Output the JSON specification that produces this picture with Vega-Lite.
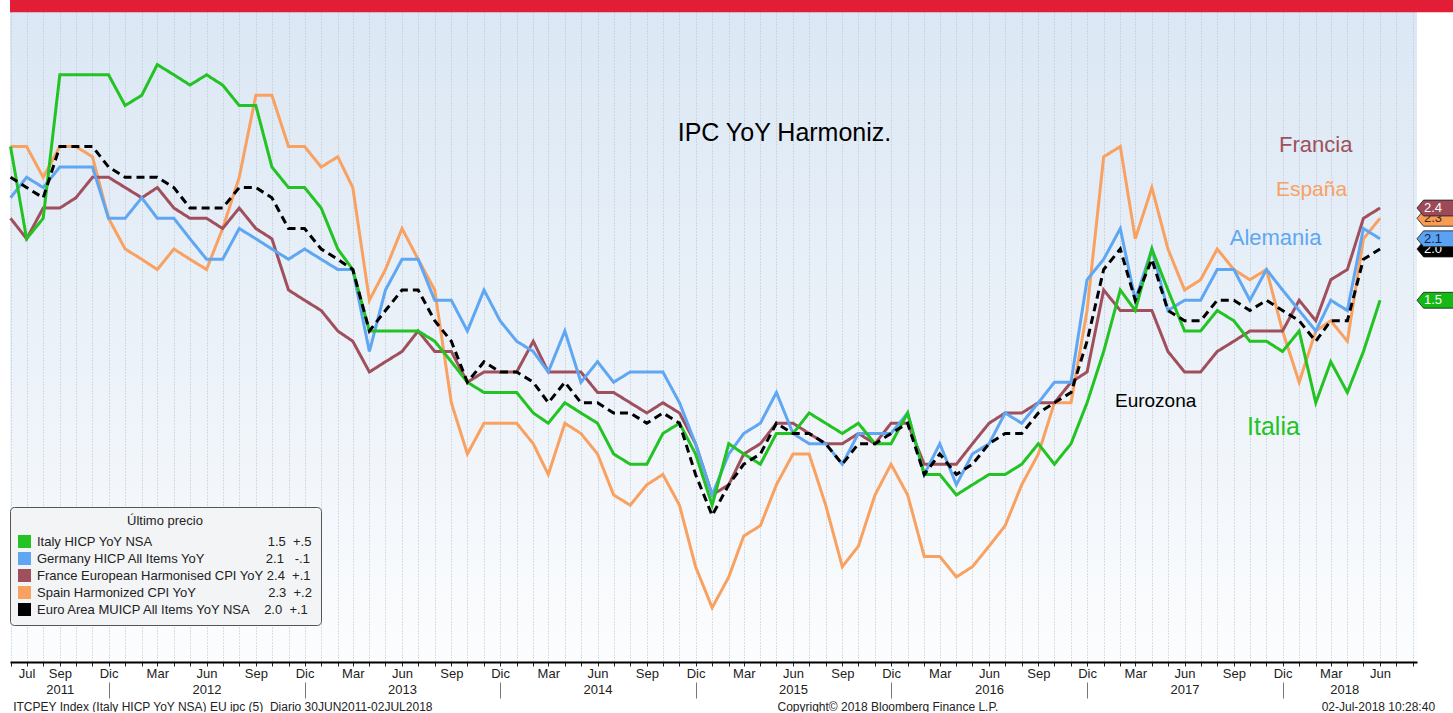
{
  "$schema": "https://vega.github.io/schema/vega-lite/v6.json",
  "width": 1407,
  "height": 662,
  "autosize": {"type": "pad"},
  "padding": {"left": 4, "top": 0, "right": 0, "bottom": 0},
  "background": "#ffffff",
  "view": {
    "stroke": null,
    "fill": {
      "gradient": "linear", "x1": 0, "y1": 0, "x2": 0, "y2": 1,
      "stops": [
        {"offset": 0, "color": "#dae7f4"},
        {"offset": 0.55, "color": "#ecf2f9"},
        {"offset": 1, "color": "#fcfdfe"}
      ]
    }
  },
  "config": {"font": "Liberation Sans"},
  "datasets": {
    "m": [
      {"d":"2011-06-01","it":3.0,"de":2.5,"fr":2.3,"es":3.0,"ea":2.7},
      {"d":"2011-07-01","it":2.1,"de":2.7,"fr":2.1,"es":3.0,"ea":2.6},
      {"d":"2011-08-01","it":2.3,"de":2.6,"fr":2.4,"es":2.7,"ea":2.5},
      {"d":"2011-09-01","it":3.7,"de":2.8,"fr":2.4,"es":3.0,"ea":3.0},
      {"d":"2011-10-01","it":3.7,"de":2.8,"fr":2.5,"es":3.0,"ea":3.0},
      {"d":"2011-11-01","it":3.7,"de":2.8,"fr":2.7,"es":2.9,"ea":3.0},
      {"d":"2011-12-01","it":3.7,"de":2.3,"fr":2.7,"es":2.3,"ea":2.8},
      {"d":"2012-01-01","it":3.4,"de":2.3,"fr":2.6,"es":2.0,"ea":2.7},
      {"d":"2012-02-01","it":3.5,"de":2.5,"fr":2.5,"es":1.9,"ea":2.7},
      {"d":"2012-03-01","it":3.8,"de":2.3,"fr":2.6,"es":1.8,"ea":2.7},
      {"d":"2012-04-01","it":3.7,"de":2.3,"fr":2.4,"es":2.0,"ea":2.6},
      {"d":"2012-05-01","it":3.6,"de":2.1,"fr":2.3,"es":1.9,"ea":2.4},
      {"d":"2012-06-01","it":3.7,"de":1.9,"fr":2.3,"es":1.8,"ea":2.4},
      {"d":"2012-07-01","it":3.6,"de":1.9,"fr":2.2,"es":2.2,"ea":2.4},
      {"d":"2012-08-01","it":3.4,"de":2.2,"fr":2.4,"es":2.7,"ea":2.6},
      {"d":"2012-09-01","it":3.4,"de":2.1,"fr":2.2,"es":3.5,"ea":2.6},
      {"d":"2012-10-01","it":2.8,"de":2.0,"fr":2.1,"es":3.5,"ea":2.5},
      {"d":"2012-11-01","it":2.6,"de":1.9,"fr":1.6,"es":3.0,"ea":2.2},
      {"d":"2012-12-01","it":2.6,"de":2.0,"fr":1.5,"es":3.0,"ea":2.2},
      {"d":"2013-01-01","it":2.4,"de":1.9,"fr":1.4,"es":2.8,"ea":2.0},
      {"d":"2013-02-01","it":2.0,"de":1.8,"fr":1.2,"es":2.9,"ea":1.9},
      {"d":"2013-03-01","it":1.8,"de":1.8,"fr":1.1,"es":2.6,"ea":1.8},
      {"d":"2013-04-01","it":1.2,"de":1.0,"fr":0.8,"es":1.5,"ea":1.2},
      {"d":"2013-05-01","it":1.2,"de":1.6,"fr":0.9,"es":1.8,"ea":1.4},
      {"d":"2013-06-01","it":1.2,"de":1.9,"fr":1.0,"es":2.2,"ea":1.6},
      {"d":"2013-07-01","it":1.2,"de":1.9,"fr":1.2,"es":1.9,"ea":1.6},
      {"d":"2013-08-01","it":1.1,"de":1.5,"fr":1.0,"es":1.6,"ea":1.3},
      {"d":"2013-09-01","it":0.9,"de":1.5,"fr":1.0,"es":0.5,"ea":1.1},
      {"d":"2013-10-01","it":0.7,"de":1.2,"fr":0.7,"es":0.0,"ea":0.7},
      {"d":"2013-11-01","it":0.6,"de":1.6,"fr":0.8,"es":0.3,"ea":0.9},
      {"d":"2013-12-01","it":0.6,"de":1.3,"fr":0.8,"es":0.3,"ea":0.8},
      {"d":"2014-01-01","it":0.6,"de":1.1,"fr":0.8,"es":0.3,"ea":0.8},
      {"d":"2014-02-01","it":0.4,"de":1.0,"fr":1.1,"es":0.1,"ea":0.7},
      {"d":"2014-03-01","it":0.3,"de":0.8,"fr":0.8,"es":-0.2,"ea":0.5},
      {"d":"2014-04-01","it":0.5,"de":1.2,"fr":0.8,"es":0.3,"ea":0.7},
      {"d":"2014-05-01","it":0.4,"de":0.7,"fr":0.8,"es":0.2,"ea":0.5},
      {"d":"2014-06-01","it":0.3,"de":0.9,"fr":0.6,"es":0.0,"ea":0.5},
      {"d":"2014-07-01","it":0.0,"de":0.7,"fr":0.6,"es":-0.4,"ea":0.4},
      {"d":"2014-08-01","it":-0.1,"de":0.8,"fr":0.5,"es":-0.5,"ea":0.4},
      {"d":"2014-09-01","it":-0.1,"de":0.8,"fr":0.4,"es":-0.3,"ea":0.3},
      {"d":"2014-10-01","it":0.2,"de":0.8,"fr":0.5,"es":-0.2,"ea":0.4},
      {"d":"2014-11-01","it":0.3,"de":0.5,"fr":0.4,"es":-0.5,"ea":0.3},
      {"d":"2014-12-01","it":0.0,"de":0.1,"fr":0.1,"es":-1.1,"ea":-0.2},
      {"d":"2015-01-01","it":-0.5,"de":-0.4,"fr":-0.4,"es":-1.5,"ea":-0.6},
      {"d":"2015-02-01","it":0.1,"de":0.0,"fr":-0.3,"es":-1.2,"ea":-0.3},
      {"d":"2015-03-01","it":0.0,"de":0.2,"fr":0.0,"es":-0.8,"ea":-0.1},
      {"d":"2015-04-01","it":-0.1,"de":0.3,"fr":0.1,"es":-0.7,"ea":0.0},
      {"d":"2015-05-01","it":0.2,"de":0.6,"fr":0.3,"es":-0.3,"ea":0.3},
      {"d":"2015-06-01","it":0.2,"de":0.2,"fr":0.3,"es":0.0,"ea":0.2},
      {"d":"2015-07-01","it":0.4,"de":0.1,"fr":0.2,"es":0.0,"ea":0.2},
      {"d":"2015-08-01","it":0.3,"de":0.1,"fr":0.1,"es":-0.5,"ea":0.1},
      {"d":"2015-09-01","it":0.2,"de":-0.1,"fr":0.1,"es":-1.1,"ea":-0.1},
      {"d":"2015-10-01","it":0.3,"de":0.2,"fr":0.2,"es":-0.9,"ea":0.1},
      {"d":"2015-11-01","it":0.1,"de":0.2,"fr":0.1,"es":-0.4,"ea":0.1},
      {"d":"2015-12-01","it":0.1,"de":0.2,"fr":0.3,"es":-0.1,"ea":0.2},
      {"d":"2016-01-01","it":0.4,"de":0.4,"fr":0.3,"es":-0.4,"ea":0.3},
      {"d":"2016-02-01","it":-0.2,"de":-0.2,"fr":-0.1,"es":-1.0,"ea":-0.2},
      {"d":"2016-03-01","it":-0.2,"de":0.1,"fr":-0.1,"es":-1.0,"ea":0.0},
      {"d":"2016-04-01","it":-0.4,"de":-0.3,"fr":-0.1,"es":-1.2,"ea":-0.2},
      {"d":"2016-05-01","it":-0.3,"de":0.0,"fr":0.1,"es":-1.1,"ea":-0.1},
      {"d":"2016-06-01","it":-0.2,"de":0.1,"fr":0.3,"es":-0.9,"ea":0.1},
      {"d":"2016-07-01","it":-0.2,"de":0.4,"fr":0.4,"es":-0.7,"ea":0.2},
      {"d":"2016-08-01","it":-0.1,"de":0.3,"fr":0.4,"es":-0.3,"ea":0.2},
      {"d":"2016-09-01","it":0.1,"de":0.5,"fr":0.5,"es":0.0,"ea":0.4},
      {"d":"2016-10-01","it":-0.1,"de":0.7,"fr":0.5,"es":0.5,"ea":0.5},
      {"d":"2016-11-01","it":0.1,"de":0.7,"fr":0.7,"es":0.5,"ea":0.6},
      {"d":"2016-12-01","it":0.5,"de":1.7,"fr":0.8,"es":1.4,"ea":1.1},
      {"d":"2017-01-01","it":1.0,"de":1.9,"fr":1.6,"es":2.9,"ea":1.8},
      {"d":"2017-02-01","it":1.6,"de":2.2,"fr":1.4,"es":3.0,"ea":2.0},
      {"d":"2017-03-01","it":1.4,"de":1.5,"fr":1.4,"es":2.1,"ea":1.5},
      {"d":"2017-04-01","it":2.0,"de":2.0,"fr":1.4,"es":2.6,"ea":1.9},
      {"d":"2017-05-01","it":1.6,"de":1.4,"fr":1.0,"es":2.0,"ea":1.4},
      {"d":"2017-06-01","it":1.2,"de":1.5,"fr":0.8,"es":1.6,"ea":1.3},
      {"d":"2017-07-01","it":1.2,"de":1.5,"fr":0.8,"es":1.7,"ea":1.3},
      {"d":"2017-08-01","it":1.4,"de":1.8,"fr":1.0,"es":2.0,"ea":1.5},
      {"d":"2017-09-01","it":1.3,"de":1.8,"fr":1.1,"es":1.8,"ea":1.5},
      {"d":"2017-10-01","it":1.1,"de":1.5,"fr":1.2,"es":1.7,"ea":1.4},
      {"d":"2017-11-01","it":1.1,"de":1.8,"fr":1.2,"es":1.8,"ea":1.5},
      {"d":"2017-12-01","it":1.0,"de":1.6,"fr":1.2,"es":1.2,"ea":1.4},
      {"d":"2018-01-01","it":1.2,"de":1.4,"fr":1.5,"es":0.7,"ea":1.3},
      {"d":"2018-02-01","it":0.5,"de":1.2,"fr":1.3,"es":1.2,"ea":1.1},
      {"d":"2018-03-01","it":0.9,"de":1.5,"fr":1.7,"es":1.3,"ea":1.3},
      {"d":"2018-04-01","it":0.6,"de":1.4,"fr":1.8,"es":1.1,"ea":1.3},
      {"d":"2018-05-01","it":1.0,"de":2.2,"fr":2.3,"es":2.1,"ea":1.9},
      {"d":"2018-06-01","it":1.5,"de":2.1,"fr":2.4,"es":2.3,"ea":2.0}
    ],
    "ann": [
      {"s":"ea","t":"IPC YoY Harmoniz.","d":"2015-05-16","v":3.057},
      {"s":"fr","t":"Francia","d":"2018-02-01","v":2.944},
      {"s":"es","t":"España","d":"2018-01-24","v":2.518},
      {"s":"de","t":"Alemania","d":"2017-11-18","v":2.039},
      {"s":"ea","t":"Eurozona","d":"2017-04-08","v":0.462},
      {"s":"it","t":"Italia","d":"2017-11-14","v":0.185}
    ],
    "series": [
      {"s":"it"},{"s":"de"},{"s":"fr"},{"s":"es"},{"s":"ea"}
    ]
  },
  "resolve": {"axis": {"x": "independent"}},
  "layer": [
    {
      "data": {"values": [{}]},
      "mark": {"type": "rect", "color": "#e21e36"},
      "encoding": {
        "x": {"datum": {"year": 2011, "month": 5, "date": 31, "utc": true}, "type": "temporal", "axis": null},
        "x2": {"datum": {"year": 2018, "month": 10, "date": 31, "utc": true}},
        "y": {"datum": 4.31, "type": "quantitative", "axis": null},
        "y2": {"datum": 4.43}
      }
    },
    {
      "data": {"name": "series"},
      "mark": {"type": "point", "opacity": 0},
      "encoding": {
        "x": {"datum": {"year": 2015, "month": 1, "date": 1, "utc": true}, "type": "temporal", "axis": null},
        "y": {"datum": 1, "type": "quantitative", "axis": null},
        "shape": {
          "field": "s", "type": "nominal",
          "scale": {"domain": ["it", "de", "fr", "es", "ea"], "range": ["square", "square", "square", "square", "square"]},
          "legend": {
            "orient": "none", "legendX": 0, "legendY": 507, "direction": "vertical",
            "title": "Último precio", "titleFontSize": 13, "titleFontWeight": "normal", "titleColor": "#222222",
            "titleAnchor": "middle", "titlePadding": 7, "padding": 8,
            "fillColor": "#f2f4f6", "strokeColor": "#555555", "cornerRadius": 4,
            "symbolSize": 169, "symbolStrokeWidth": 0,
            "labelFontSize": 13, "labelColor": "#222222", "labelOffset": 6, "labelLimit": 500, "rowPadding": 3,
            "labelExpr": "datum.label == 'it' ? 'Italy HICP YoY NSA\u00a0\u00a0\u00a0\u00a0\u00a0\u00a0\u00a0\u00a0\u00a0\u00a0\u00a0\u00a0\u00a0\u00a0\u00a0\u00a0\u00a0\u00a0\u00a0\u00a0\u00a0\u00a0\u00a0\u00a0\u00a0\u00a0\u00a0\u00a0\u00a0\u00a0\u00a0\u00a01.5\u00a0\u00a0+.5' : datum.label == 'de' ? 'Germany HICP All Items YoY\u00a0\u00a0\u00a0\u00a0\u00a0\u00a0\u00a0\u00a0\u00a0\u00a0\u00a0\u00a0\u00a0\u00a0\u00a0\u00a0\u00a02.1\u00a0\u00a0\u00a0-.1' : datum.label == 'fr' ? 'France European Harmonised CPI YoY\u00a02.4\u00a0\u00a0+.1' : datum.label == 'es' ? 'Spain Harmonized CPI YoY\u00a0\u00a0\u00a0\u00a0\u00a0\u00a0\u00a0\u00a0\u00a0\u00a0\u00a0\u00a0\u00a0\u00a0\u00a0\u00a0\u00a0\u00a0\u00a0\u00a02.3\u00a0\u00a0+.2' : 'Euro Area MUICP All Items YoY NSA\u00a0\u00a0\u00a0\u00a02.0\u00a0\u00a0+.1'",
            "encode": {
              "symbols": {
                "fill": {
                  "condition": [
                    {"test": "datum.value == 'it'", "value": "#16b816"},
                    {"test": "datum.value == 'de'", "value": "#5aa2f2"},
                    {"test": "datum.value == 'fr'", "value": "#9c4a57"},
                    {"test": "datum.value == 'es'", "value": "#f99a55"}
                  ],
                  "value": "#1a1a1a"
                },
                "opacity": {"value": 1},
                "fillOpacity": {"value": 1}
              }
            }
          }
        }
      }
    },
    {
      "data": {"name": "m"},
      "transform": [{"fold": ["es", "fr", "de", "it", "ea"], "as": ["s", "v"]}],
      "mark": {"type": "line", "strokeWidth": 3},
      "encoding": {
        "x": {
          "field": "d", "type": "temporal",
          "scale": {"type": "utc", "domain": [{"year": 2011, "month": 5, "date": 31, "utc": true}, {"year": 2018, "month": 8, "date": 9, "utc": true}]},
          "axis": {
            "orient": "bottom", "title": null,
            "tickCount": {"interval": "month", "step": 1},
            "labelExpr": "utcmonth(datum.value) == 2 ? 'Mar' : (utcmonth(datum.value) == 5 && utcyear(datum.value) > 2011) ? 'Jun' : utcmonth(datum.value) == 8 ? 'Sep' : utcmonth(datum.value) == 11 ? 'Dic' : (utcmonth(datum.value) == 6 && utcyear(datum.value) == 2011) ? 'Jul' : ''",
            "grid": true, "gridColor": "#b5c1cd", "gridDash": [1, 2], "gridWidth": 1,
            "domainColor": "#000000", "domainWidth": 2,
            "tickColor": "#222222", "tickSize": 4,
            "labelPadding": 1, "labelFontSize": 13, "labelColor": "#222222",
            "labelOverlap": false, "labelFlush": false
          }
        },
        "y": {
          "field": "v", "type": "quantitative",
          "scale": {"domain": [-2.03, 4.43], "nice": false, "zero": false},
          "axis": {
            "orient": "right", "title": null,
            "values": [-1.5, -1, -0.5, 0, 0.5, 1, 1.5, 2, 2.5, 3, 3.5, 4],
            "labelExpr": "datum.value % 1 == 0 ? replace(format(datum.value, '.1f'), '−', '-') : ''",
            "grid": true, "gridColor": "#b5c1cd", "gridDash": [1, 2],
            "gridOpacity": {"condition": {"test": "datum.value % 1 == 0", "value": 1}, "value": 0},
            "domainColor": "#000000", "domainWidth": 1.5,
            "tickColor": "#000000",
            "tickSize": {"condition": {"test": "datum.value % 1 == 0", "value": 6}, "value": 3},
            "tickWidth": {"condition": {"test": "datum.value % 1 == 0", "value": 3}, "value": 1},
            "labelPadding": 2, "labelFontSize": 13, "labelColor": "#333333", "labelOverlap": false
          }
        },
        "color": {
          "field": "s", "type": "nominal",
          "scale": {"domain": ["it", "de", "fr", "es", "ea"], "range": ["#22c322", "#5fa6f3", "#a0505c", "#f9a160", "#000000"]},
          "legend": null
        },
        "strokeDash": {
          "field": "s", "type": "nominal",
          "scale": {"domain": ["it", "de", "fr", "es", "ea"], "range": [[1, 0], [1, 0], [1, 0], [1, 0], [8, 5]]},
          "legend": null
        }
      }
    },
    {
      "data": {"name": "ann"},
      "mark": {"type": "text", "baseline": "alphabetic", "align": "center"},
      "encoding": {
        "x": {
          "field": "d", "type": "temporal",
          "axis": {
            "orient": "bottom", "title": null, "offset": 20,
            "values": [
              {"year": 2011, "month": 9, "date": 1, "utc": true},
              {"year": 2011, "month": 12, "date": 1, "utc": true},
              {"year": 2012, "month": 6, "date": 1, "utc": true},
              {"year": 2012, "month": 12, "date": 1, "utc": true},
              {"year": 2013, "month": 6, "date": 1, "utc": true},
              {"year": 2013, "month": 12, "date": 1, "utc": true},
              {"year": 2014, "month": 6, "date": 1, "utc": true},
              {"year": 2014, "month": 12, "date": 1, "utc": true},
              {"year": 2015, "month": 6, "date": 1, "utc": true},
              {"year": 2015, "month": 12, "date": 1, "utc": true},
              {"year": 2016, "month": 6, "date": 1, "utc": true},
              {"year": 2016, "month": 12, "date": 1, "utc": true},
              {"year": 2017, "month": 6, "date": 1, "utc": true},
              {"year": 2017, "month": 12, "date": 1, "utc": true},
              {"year": 2018, "month": 3, "date": 26, "utc": true}
            ],
            "labelExpr": "utcmonth(datum.value) == 11 ? '' : '' + utcyear(datum.value)",
            "domain": false, "grid": false,
            "tickSize": 16, "tickColor": "#777777",
            "tickOpacity": {"condition": {"test": "utcmonth(datum.value) == 11", "value": 1}, "value": 0},
            "labelPadding": -15, "labelFontSize": 13, "labelColor": "#222222",
            "labelOverlap": false, "labelFlush": false
          }
        },
        "y": {"field": "v", "type": "quantitative", "axis": null},
        "text": {"field": "t"},
        "color": {"field": "s", "type": "nominal", "legend": null},
        "size": {
          "condition": [
            {"test": "datum.t == 'Eurozona'", "value": 19},
            {"test": "datum.t == 'IPC YoY Harmoniz.'", "value": 25},
            {"test": "datum.t == 'Italia'", "value": 25},
            {"test": "datum.t == 'España'", "value": 21}
          ],
          "value": 22
        }
      }
    },
    {
      "data": {"name": "m"},
      "transform": [
        {"filter": "utcyear(toDate(datum.d)) == 2018 && utcmonth(toDate(datum.d)) == 5"},
        {"fold": ["ea", "es"], "as": ["s", "v"]}
      ],
      "mark": {"type": "point", "shape": "M-1,0L-0.7,-0.36L1,-0.36L1,0.36L-0.7,0.36Z", "size": 1936, "filled": true, "stroke": "#1a1a1a", "strokeWidth": 0.8, "opacity": 1},
      "encoding": {
        "x": {
          "datum": {"year": 2018, "month": 9, "date": 19, "utc": true}, "type": "temporal",
          "axis": {
            "orient": "bottom", "title": null, "offset": 38,
            "values": [
              {"year": 2011, "month": 6, "date": 5, "utc": true},
              {"year": 2015, "month": 5, "date": 2, "utc": true},
              {"year": 2018, "month": 2, "date": 11, "utc": true}
            ],
            "labelExpr": "utcyear(datum.value) == 2011 ? 'ITCPEY Index (Italy HICP YoY NSA) EU ipc (5)\u00a0 Diario 30JUN2011-02JUL2018' : utcyear(datum.value) == 2015 ? 'Copyright© 2018 Bloomberg Finance L.P.' : '02-Jul-2018 10:28:40'",
            "labelAlign": "left", "domain": false, "ticks": false, "grid": false,
            "labelPadding": 1, "labelFontSize": 12, "labelColor": "#222222", "labelLimit": 700,
            "labelOverlap": false, "labelFlush": false
          }
        },
        "y": {"field": "v", "type": "quantitative", "axis": null},
        "fill": {
          "field": "s", "type": "nominal",
          "scale": {"domain": ["it", "de", "fr", "es", "ea"], "range": ["#16b816", "#5aa2f2", "#9c4a57", "#f99a55", "#000000"]},
          "legend": null
        },
        "order": {"field": "v", "type": "quantitative"}
      }
    },
    {
      "data": {"name": "m"},
      "transform": [
        {"filter": "utcyear(toDate(datum.d)) == 2018 && utcmonth(toDate(datum.d)) == 5"},
        {"fold": ["ea", "es"], "as": ["s", "v"]}
      ],
      "mark": {"type": "text", "fontSize": 13, "dx": -6, "align": "center", "baseline": "middle"},
      "encoding": {
        "x": {"datum": {"year": 2018, "month": 9, "date": 19, "utc": true}, "type": "temporal", "axis": null},
        "y": {"field": "v", "type": "quantitative", "axis": null},
        "text": {"field": "v", "type": "quantitative", "format": ".1f"},
        "color": {"condition": {"test": "datum.s == 'es'", "value": "#3a2a1a"}, "value": "#ffffff"}
      }
    },
    {
      "data": {"name": "m"},
      "transform": [
        {"filter": "utcyear(toDate(datum.d)) == 2018 && utcmonth(toDate(datum.d)) == 5"},
        {"fold": ["de", "fr", "it"], "as": ["s", "v"]}
      ],
      "mark": {"type": "point", "shape": "M-1,0L-0.7,-0.36L1,-0.36L1,0.36L-0.7,0.36Z", "size": 1936, "filled": true, "stroke": "#1a1a1a", "strokeWidth": 0.8, "opacity": 1},
      "encoding": {
        "x": {"datum": {"year": 2018, "month": 9, "date": 19, "utc": true}, "type": "temporal", "axis": null},
        "y": {"field": "v", "type": "quantitative", "axis": null},
        "fill": {"field": "s", "type": "nominal", "legend": null}
      }
    },
    {
      "data": {"name": "m"},
      "transform": [
        {"filter": "utcyear(toDate(datum.d)) == 2018 && utcmonth(toDate(datum.d)) == 5"},
        {"fold": ["de", "fr", "it"], "as": ["s", "v"]}
      ],
      "mark": {"type": "text", "fontSize": 13, "dx": -6, "align": "center", "baseline": "middle"},
      "encoding": {
        "x": {"datum": {"year": 2018, "month": 9, "date": 19, "utc": true}, "type": "temporal", "axis": null},
        "y": {"field": "v", "type": "quantitative", "axis": null},
        "text": {"field": "v", "type": "quantitative", "format": ".1f"},
        "color": {"condition": {"test": "datum.s == 'de'", "value": "#13223a"}, "value": "#ffffff"}
      }
    }
  ]
}
